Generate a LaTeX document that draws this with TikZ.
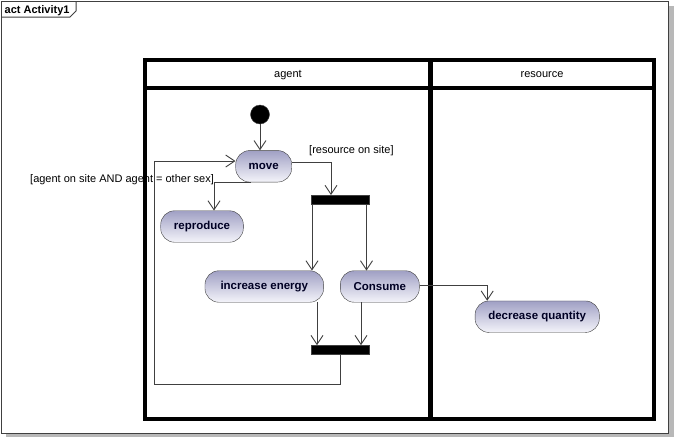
\documentclass[tikz,border=0pt]{standalone}
\usepackage{fontspec}
\setmainfont{Liberation Sans}
\usepackage{tikz}
\usetikzlibrary{arrows.meta, positioning}
\definecolor{actTop}{RGB}{160,160,196}
\definecolor{actBot}{RGB}{244,244,250}
\definecolor{edgeGray}{RGB}{64,64,64}
\definecolor{nodeText}{RGB}{0,0,36}

\begin{document}
\begin{tikzpicture}[
    x=1pt, y=-1pt,
    action/.style={rectangle, rounded corners=14pt, draw=edgeGray, top color=actTop, bottom color=actBot, minimum height=31.5pt, inner sep=0pt, text=nodeText, font=\fontsize{11.5}{13}\selectfont\bfseries},
    bar/.style={rectangle, draw=edgeGray, fill=black, minimum width=58.5pt, minimum height=8.8pt, inner sep=0pt},
    flow/.style={draw=edgeGray, line width=0.9pt, -{Straight Barb[length=9pt, width=12pt]}},
    guard/.style={font=\fontsize{11}{13}\selectfont, inner sep=0pt, anchor=west},
    lanehead/.style={font=\fontsize{11}{13}\selectfont, inner sep=0pt},
    lane/.style={line width=4pt, draw=black}
]
    \useasboundingbox (0,0) rectangle (675,437);

    % Frame with shadow
    \fill[black!28] (6,433.5) rectangle (674,437);
    \fill[black!28] (668.5,6) rectangle (674,437);
    \draw[line width=1.2pt, black!75, fill=white] (1.5,1.5) rectangle (668.5,433.5);
    \draw[line width=1pt, black!75] (1.5,17) -- (70,17) -- (76,11) -- (76,1.5);
    \node[anchor=west, inner sep=0pt, font=\fontsize{11}{13}\selectfont\bfseries] (title) at (4.5,10.5) {act Activity1};

    % Swimlanes
    \draw[lane] (145,60) rectangle (654,419);
    \draw[lane] (145,88) -- (654,88);
    \draw[line width=5pt] (430.5,60) -- (430.5,419);
    \node[lanehead] (agentLane) at (288,75) {agent};
    \node[lanehead] (resLane) at (542,75) {resource};

    % Activities
    \node[circle, fill=black, draw=edgeGray, minimum size=19pt, inner sep=0pt] (init) at (260,114.5) {};
    \node[action, minimum width=56pt] (move) at (263.7,166.3) {move};
    \node[action, minimum width=82.6pt] (reproduce) at (202,226.5) {reproduce};
    \node[bar] (fork) at (340,199.7) {};
    \node[action, minimum width=118.7pt] (ienergy) at (264.3,286.5) {increase energy};
    \node[action, minimum width=79pt] (consume) at (379.8,286.5) {Consume};
    \node[bar] (join) at (340,349.8) {};
    \node[action, minimum width=124.3pt] (decrease) at (537.2,316.7) {decrease quantity};

    % Guards
    \node[guard] (onsite) at (309,151) {[resource on site]};
    \node[guard] (mate) at (30,180) {[agent on site AND agent = other sex]};

    % Control flows
    \coordinate (loopCorner) at (154,384);
    \draw[flow] (init) -- (init |- move.north);
    \draw[flow] ([yshift=4.3pt]move.east) -| ([xshift=-9pt]fork.north);
    \draw[flow] ([xshift=-13pt]move.south) -| ([xshift=12pt]reproduce.north);
    \draw[flow] ([xshift=-28pt]fork.south) -- ([xshift=-28pt]fork.south |- ienergy.north);
    \draw[flow] ([xshift=26.5pt]fork.south) -- ([xshift=26.5pt]fork.south |- consume.north);
    \draw[flow] ([xshift=-23pt]join.north |- ienergy.south) -- ([xshift=-23pt]join.north);
    \draw[flow] ([xshift=21pt]join.north |- consume.south) -- ([xshift=21pt]join.north);
    \draw[flow] (join.south) |- (loopCorner) |- ([yshift=5.3pt]move.west);
    \draw[flow] ([yshift=1.5pt]consume.east) -| ([xshift=-50pt]decrease.north);

\end{tikzpicture}
\end{document}
